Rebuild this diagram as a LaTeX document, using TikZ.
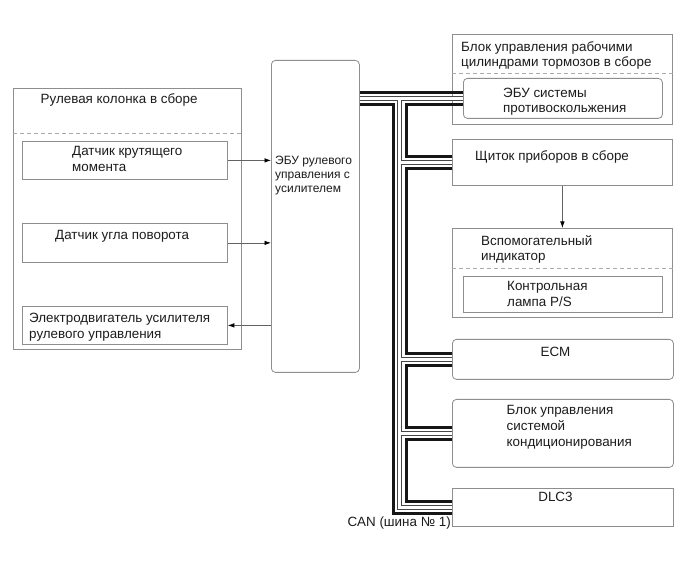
\documentclass[tikz,border=0pt]{standalone}
\usepackage{fontspec}
\setmainfont{Liberation Sans}
\usepackage{tikz}
\usetikzlibrary{arrows.meta,calc,positioning}
\definecolor{frame}{HTML}{8E8E8E}
\definecolor{wire}{HTML}{161616}
\definecolor{txt}{HTML}{1C1C1C}
\tikzset{unit/.style={draw=frame,line width=.8pt,anchor=north west,inner sep=0pt},
 runit/.style={unit,rounded corners=4pt},
 divider/.style={draw=frame!75,line width=.6pt,dash pattern=on 4pt off 3pt},
 lbl/.style={font=\fontsize{13.4}{15.8}\selectfont,text=txt,align=left,anchor=north west,inner sep=0pt},
 sig/.style={draw=frame!70!black,line width=.7pt,-{Latex[length=6.5pt,width=4.5pt,color=black]}},
 canh/.style={draw=wire,line width=3pt},
 canlo/.style={draw=frame!50!black,line width=5pt},
 canli/.style={draw=white,line width=3pt}}

\begin{document}
\begin{tikzpicture}[x=1pt,y=-1pt]
\useasboundingbox[fill=white] (0,0) rectangle (689,561);
% steering column assembly
\node[unit,minimum width=228pt,minimum height=261pt] (col) at (13,88) {};
\draw[divider] ([yshift=-45pt]col.north west) -- ([yshift=-45pt]col.north east);
\node[lbl] (colT) at (40.5,93.5) {Рулевая колонка в сборе};
\node[unit,minimum width=205pt,minimum height=38pt] (torq) at (22,141) {};
\node[lbl] (torqT) at (72,146) {Датчик крутящего\\момента};
\node[unit,minimum width=205pt,minimum height=39pt] (angle) at (22,223) {};
\node[lbl] (angleT) at (55,230) {Датчик угла поворота};
\node[unit,minimum width=205pt,minimum height=38pt] (motor) at (22,306) {};
\node[lbl] (motorT) at (29,313) {Электродвигатель усилителя\\рулевого управления};
% power steering ecu
\node[runit,minimum width=88pt,minimum height=312pt] (ecu) at (271,60) {};
\node[lbl,font=\fontsize{12}{14.4}\selectfont] (ecuT) at (275,155.5) {ЭБУ рулевого\\управления с\\усилителем};
% right column
\node[unit,minimum width=220pt,minimum height=90pt] (abs) at (452,34) {};
\draw[divider] ([yshift=-39pt]abs.north west) -- ([yshift=-39pt]abs.north east);
\node[lbl] (absT) at (461,41) {Блок управления рабочими\\цилиндрами тормозов в сборе};
\node[runit,minimum width=199pt,minimum height=40pt] (absecu) at (463,78) {};
\node[lbl] (absecuT) at (503,87.5) {ЭБУ системы\\противоскольжения};
\node[unit,minimum width=220pt,minimum height=46pt] (meter) at (452,139) {};
\node[lbl] (meterT) at (475,150) {Щиток приборов в сборе};
\node[unit,minimum width=220pt,minimum height=89pt] (ind) at (452,228) {};
\draw[divider] ([yshift=-40pt]ind.north west) -- ([yshift=-40pt]ind.north east);
\node[lbl] (indT) at (481,235) {Вспомогательный\\индикатор};
\node[unit,minimum width=199pt,minimum height=36pt] (lamp) at (463,276) {};
\node[lbl] (lampT) at (507,281.5) {Контрольная\\лампа P/S};
\node[runit,minimum width=221pt,minimum height=40pt] (ecm) at (452,339) {};
\node[lbl,anchor=north] (ecmT) at (555.5,346.5) {ECM};
\node[runit,minimum width=221pt,minimum height=68pt] (ac) at (452,399) {};
\node[lbl] (acT) at (506.5,405) {Блок управления\\системой\\кондиционирования};
\node[unit,minimum width=221pt,minimum height=38pt] (dlc) at (452,488) {};
\node[lbl,anchor=north] (dlcT) at (555.5,491.5) {DLC3};
\node[lbl,anchor=north east] (canT) at (451,516.5) {CAN (шина № 1)};
% signal lines
\draw[sig] (torq.east) -- (torq.east -| ecu.west);
\draw[sig] (angle.east) -- (angle.east -| ecu.west);
\draw[sig] (motor.east -| ecu.west) -- (motor.east);
\draw[sig] (meter.south) -- (ind.north);
% can bus
\coordinate (outx) at (393,0);
\coordinate (hx) at (399.5,0);
\coordinate (inx) at (406,0);
\foreach \s in {canlo,canli}
 \draw[\s] (absecu.west -| ecu.east) -- (absecu.west)
  (absecu.west -| hx) -- (dlc.west -| hx) -- (dlc.west)
  \foreach \d in {meter,ecm,ac}{(\d.west -| hx) -- (\d.west)};
\draw[canh] ([yshift=6pt]absecu.west -| ecu.east) -- ([yshift=6pt]absecu.west);
\draw[canh] ([yshift=-6pt]absecu.west -| ecu.east) -| ([yshift=-6pt]dlc.west -| outx) -- ([yshift=-6pt]dlc.west);
\foreach \a/\b in {absecu/meter,meter/ecm,ecm/ac,ac/dlc}
 \draw[canh] ([yshift=-6pt]\a.west) -| ([yshift=6pt]\b.west -| inx) -- ([yshift=6pt]\b.west);
\end{tikzpicture}
\end{document}
